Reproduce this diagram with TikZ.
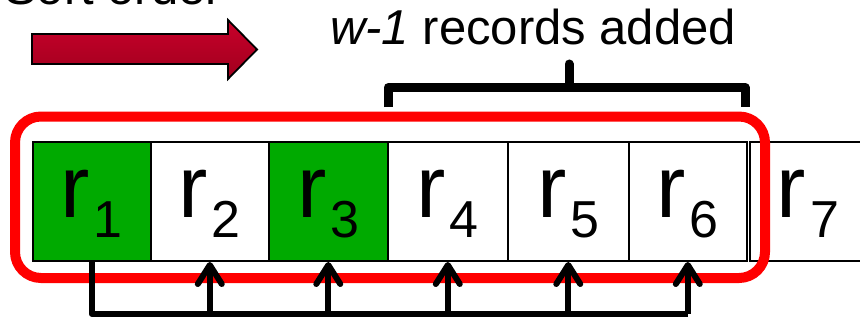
\documentclass[tikz,border=0pt]{standalone}
\usepackage{fontspec}
\setmainfont{Liberation Sans}
\usetikzlibrary{arrows.meta}
\definecolor{cellgreen}{RGB}{0,170,0}
\definecolor{framered}{RGB}{255,0,0}
\definecolor{arrtop}{RGB}{200,0,42}
\definecolor{arrbot}{RGB}{160,0,30}
\tikzset{
  cell/.style={draw=black, line width=1.6pt, minimum height=119pt, inner sep=0pt, anchor=south west},
  greencell/.style={cell, fill=cellgreen},
  lab/.style={anchor=base, inner sep=0pt},
  frame/.style={draw=framered, line width=10pt, rounded corners=26pt},
  brace/.style={draw=black, line width=9pt, line join=round},
  conn/.style={draw=black, line width=6pt, line join=round},
  up/.style={conn, -{Straight Barb[length=19pt, width=24pt, line cap=round, line join=round]}},
  bigtext/.style={inner sep=0pt, font=\fontsize{49}{49}\selectfont},
}
\newcommand{\rlab}[1]{\fontsize{88}{88}\selectfont r\kern4pt\raisebox{-20pt}{\fontsize{52}{52}\selectfont #1}}
\begin{document}
\begin{tikzpicture}[x=1pt,y=-1pt]
\useasboundingbox (0,0) rectangle (860,321);
% sort order
\node[bigtext, anchor=base west] (sort) at (4,5) {Sort order};
\draw[line width=1.8pt, draw=black, top color=arrtop, bottom color=arrbot]
  (32,34) -- (228,34) -- (228,20) -- (257,49.5) -- (228,79) -- (228,64) -- (32,64) -- cycle;
% caption
\node[bigtext, anchor=base west] (cap) at (330,45) {\itshape w-1\upshape{} records added};
% cells
\node[greencell, minimum width=118pt] (c1) at (32,262) {};
\node[cell, minimum width=118pt] (c2) at (150,262) {};
\node[greencell, minimum width=119pt] (c3) at (268,262) {};
\node[cell, minimum width=120pt] (c4) at (387,262) {};
\node[cell, minimum width=121pt] (c5) at (507,262) {};
\node[cell, minimum width=118pt] (c6) at (628,262) {};
\node[cell, minimum width=130pt] (c7) at (749,262) {};
\node[lab] (l1) at ([yshift=45pt]c1.south) {\rlab{1}};
\node[lab] (l2) at ([yshift=45pt]c2.south) {\rlab{2}};
\node[lab] (l3) at ([yshift=45pt]c3.south) {\rlab{3}};
\node[lab] (l4) at ([yshift=45pt]c4.south) {\rlab{4}};
\node[lab] (l5) at ([yshift=45pt]c5.south) {\rlab{5}};
\node[lab] (l6) at ([yshift=45pt]c6.south) {\rlab{6}};
\node[lab] (l7) at ([xshift=-4pt,yshift=45pt]c7.south -| 812,0) {\rlab{7}};
% red frame
\draw[frame] (15,116.5) rectangle (765,278);
% bracket
\draw[brace] (388,107) -- (388,87.5) -- (745,87.5) -- (745,107);
\draw[brace, line cap=round] (569,87.5) -- (569,64);
% connectors
\coordinate (base) at (0,314);
\draw[conn] (c1.south) -- (c1.south |- base) -- (c6.south |- base);
\draw[up] (c2.south |- base) -- (c2.south);
\draw[up] (c3.south |- base) -- (c3.south);
\draw[up] (c4.south |- base) -- (c4.south);
\draw[up] (c5.south |- base) -- (c5.south);
\draw[up] (c6.south |- base) -- (c6.south);
\end{tikzpicture}
\end{document}
